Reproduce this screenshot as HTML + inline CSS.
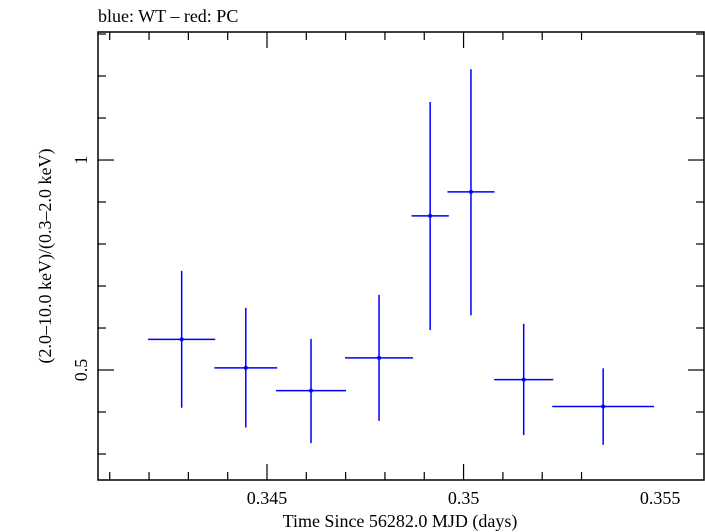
<!DOCTYPE html>
<html><head><meta charset="utf-8"><style>
html,body{margin:0;padding:0;background:#fff;}
svg{display:block;font-family:"Liberation Serif",serif;}
</style></head><body>
<svg id="chart" width="705" height="532" viewBox="0 0 705 532">
<text x="98" y="22" font-size="18" fill="#000">blue: WT – red: PC</text>
<rect x="98" y="32" width="606" height="448" fill="none" stroke="#000" stroke-width="1.5"/>
<g id="axes"></g>
<g id="marks"></g>
<text x="400" y="527" font-size="18" text-anchor="middle">Time Since 56282.0 MJD (days)</text>
<text transform="translate(51,256) rotate(-90)" font-size="18" text-anchor="middle">(2.0–10.0 keV)/(0.3–2.0 keV)</text>
</svg>
<script>
const times=[0.34283,0.344461,0.34612,0.34785,0.34915,0.350188,0.351529,0.35355];
const halfWidths=[0.000854,0.000799,0.000891,0.000865,0.000475,0.000599,0.000751,0.001294];
const ratios=[0.573,0.505,0.451,0.529,0.867,0.924,0.477,0.413];
const ratioHigh=[0.736,0.648,0.574,0.679,1.138,1.216,0.610,0.504];
const ratioLow=[0.410,0.363,0.326,0.379,0.595,0.630,0.345,0.322];
const xTickLabels=["0.345","0.35","0.355"];
const xTickValues=[0.345,0.35,0.355];
const yTickLabels=["0.5","1"];
const yTickValues=[0.5,1];

const L=98,R=704,T=32,B=480;
const xMin=0.340702,xMax=0.356115,yMin=0.2381,yMax=1.3048;
const xs=v=>L+(v-xMin)/(xMax-xMin)*(R-L);
const ys=v=>B-(v-yMin)/(yMax-yMin)*(B-T);
const NS="http://www.w3.org/2000/svg";
function mk(tag,attrs,parent){const e=document.createElementNS(NS,tag);for(const k in attrs)e.setAttribute(k,attrs[k]);parent.appendChild(e);return e;}
const axes=document.getElementById('axes'),marks=document.getElementById('marks');
// x ticks
for(let i=-5;i<=12;i++){
  const v=0.341+i*0.001; if(v<xMin||v>xMax) continue;
  const x=xs(v); const major=Math.abs((v*1000)%5)<1e-6||Math.abs((v*1000)%5-5)<1e-6;
  const len=major?16:8;
  const t1=mk('line',{x1:x,x2:x,y1:B,y2:B-len,stroke:'#000','stroke-width':1.2},axes);
  
  
  const t2=mk('line',{x1:x,x2:x,y1:T,y2:T+len,stroke:'#000','stroke-width':1.2},axes);
  
  
}
xTickValues.forEach((v,i)=>{
  const t=mk('text',{x:xs(v),y:504,'font-size':18,'text-anchor':'middle'},axes);
  t.textContent=xTickLabels[i];
  
  
});
// y ticks
for(let k=3;k<=13;k++){
  const v=k/10; if(v<yMin||v>yMax) continue;
  const y=ys(v); const major=(k===5||k===10); const len=major?16:8;
  const t1=mk('line',{x1:L,x2:L+len,y1:y,y2:y,stroke:'#000','stroke-width':1.2},axes);
  
  
  const t2=mk('line',{x1:R,x2:R-len,y1:y,y2:y,stroke:'#000','stroke-width':1.2},axes);
  
  
}
yTickValues.forEach((v,i)=>{
  const t=mk('text',{transform:`translate(87,${ys(v)}) rotate(-90)`,'font-size':18,'text-anchor':'middle'},axes);
  t.textContent=yTickLabels[i];
  
  
});
// data
times.forEach((t,i)=>{
  const g=mk('g',{},marks);
  
  
  const cx=xs(t),cy=ys(ratios[i]);
  mk('line',{x1:xs(t-halfWidths[i]),x2:xs(t+halfWidths[i]),y1:cy,y2:cy,stroke:'#0000ff','stroke-width':1.5},g);
  mk('line',{x1:cx,x2:cx,y1:ys(ratioHigh[i]),y2:ys(ratioLow[i]),stroke:'#0000ff','stroke-width':1.5},g);
  mk('circle',{cx:cx,cy:cy,r:2,fill:'#0000ff'},g);
});
</script>
</body></html>
